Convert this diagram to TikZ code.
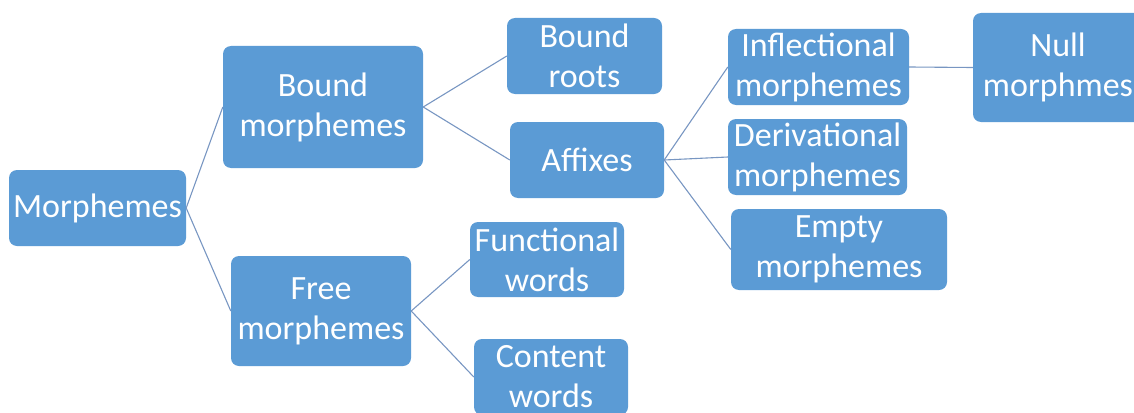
\documentclass[tikz,border=0pt]{standalone}
\usepackage{fontspec}
\setmainfont{Carlito}
\definecolor{boxblue}{HTML}{5B9BD5}
\definecolor{linkblue}{HTML}{7896C2}
\begin{document}
\begin{tikzpicture}[x=1pt,y=-1pt,
  box/.style={fill=boxblue, rounded corners=8pt, text=white, align=center,
    inner sep=0pt, font=\fontsize{34}{40}\selectfont},
  link/.style={draw=linkblue, line width=1.1pt}]
\useasboundingbox (0,0) rectangle (1134,412);
\node[box, minimum width=177pt, minimum height=76pt] (mor) at (97.5,208) {Morphemes};
\node[box, minimum width=200pt, minimum height=122pt] (bm) at (323,107) {Bound\\morphemes};
\node[box, minimum width=180pt, minimum height=110pt] (fm) at (321,311) {Free\\morphemes};
\node[box, minimum width=155pt, minimum height=76pt] (br) at (584.5,56) {Bound\\roots};
\node[box, minimum width=154pt, minimum height=76pt] (af) at (587,160) {Affixes};
\node[box, minimum width=154pt, minimum height=75pt] (fw) at (547,259.5) {Functional\\words};
\node[box, minimum width=154pt, minimum height=76pt] (cw) at (551,377) {Content\\words};
\node[box, minimum width=181pt, minimum height=76pt] (inf) at (818.5,67) {Inflectional\\morphemes};
\node[box, minimum width=179pt, minimum height=76pt] (der) at (817.5,157) {Derivational\\morphemes};
\node[box, minimum width=216pt, minimum height=81pt] (emp) at (839,249.5) {Empty\\morphemes};
\node[box, minimum width=170pt, minimum height=109pt] (null) at (1058,67.5) {Null\\morphmes};
\draw[link] (mor.east) -- (bm.west);
\draw[link] (mor.east) -- (fm.west);
\draw[link] (bm.east) -- (br.west);
\draw[link] (bm.east) -- (af.west);
\draw[link] (fm.east) -- (fw.west);
\draw[link] (fm.east) -- (cw.west);
\draw[link] (af.east) -- (inf.west);
\draw[link] (af.east) -- (der.west);
\draw[link] (af.east) -- (emp.west);
\draw[link] (inf.east) -- (null.west);
\end{tikzpicture}
\end{document}
